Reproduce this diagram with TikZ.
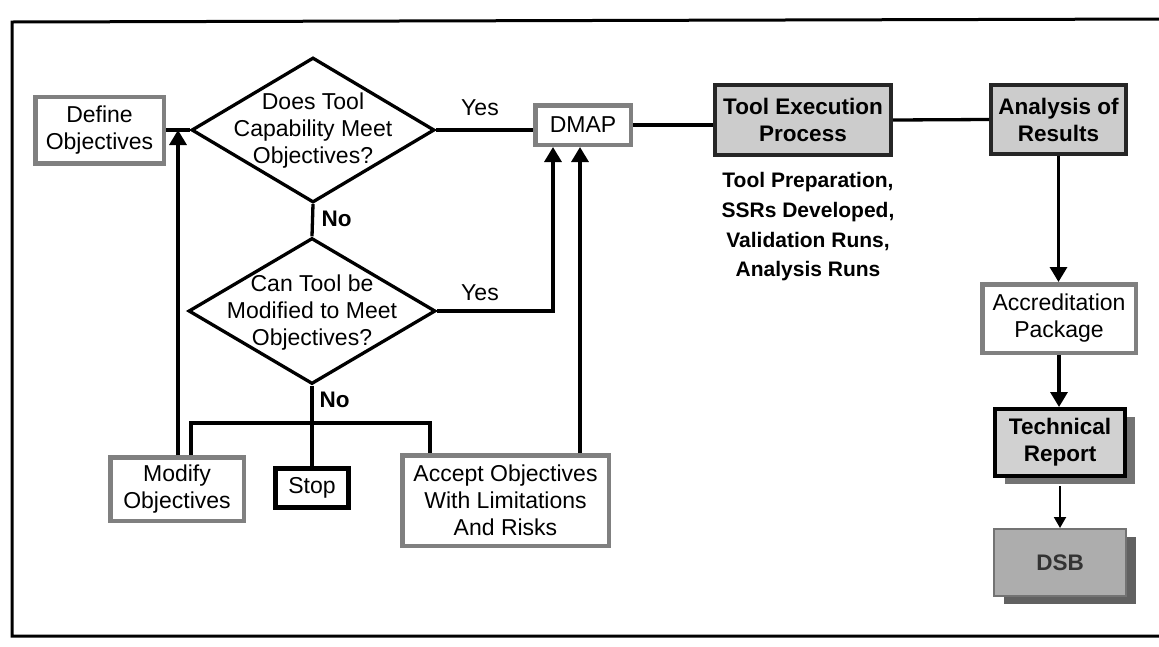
\documentclass[tikz,border=0pt]{standalone}
\usepackage{fontspec}
\setmainfont{Liberation Sans}
\usetikzlibrary{arrows.meta,shapes.geometric,shadows,calc}

\begin{document}
\begin{tikzpicture}[x=1pt,y=-1pt,
  txt/.style={font=\fontsize{23}{27}\selectfont, align=center},
  btxt/.style={font=\fontsize{22.5}{27}\selectfont\bfseries, align=center},
  greybox/.style={txt, draw=black!50, line width=4.5pt, fill=white, inner sep=0pt},
  darkbox/.style={btxt, draw=black!85, line width=4pt, fill=black!20, inner sep=0pt},
  conn/.style={line width=3.3pt},
  arr/.style={conn, -{Triangle[width=17pt,length=15pt]}},
  decision/.style={diamond, draw, line width=3.3pt, inner sep=0pt},
]
\useasboundingbox (0,0) rectangle (1159,646);

% outer frame
\draw[line width=3pt] (1170,19) -- (12,22) -- (12,636) -- (1170,636);

% left part: objectives and decisions
\node[greybox, minimum width=128.5pt, minimum height=66.5pt] (def) at (99.5,130) {Define\\Objectives};
\node[decision, minimum width=243pt, minimum height=145pt] (d1) at (313,130) {};
\node[txt] (d1t) at (313,131) {Does Tool\\Capability Meet\\Objectives?};
\node[decision, minimum width=247pt, minimum height=146pt] (d2) at (312,311) {};
\node[txt] (d2t) at (312,313) {Can Tool be\\Modified to Meet\\Objectives?};

\node[greybox, minimum width=133.5pt, minimum height=63.5pt] (mod) at (177,489) {Modify\\Objectives};
\node[txt, draw, line width=4.5pt, fill=white, inner sep=0pt, minimum width=73pt, minimum height=39pt] (stop) at (312,488) {Stop};
\node[greybox, minimum width=206.5pt, minimum height=90.5pt] (acc) at (505.5,500.5) {Accept Objectives\\With Limitations\\And Risks};

\node[greybox, minimum width=95.5pt, minimum height=39.5pt] (dmap) at (583,125) {DMAP};

% right part: execution and reporting
\node[darkbox, minimum width=176pt, minimum height=70pt] (tool) at (803,120) {Tool Execution\\Process};
\node[font=\fontsize{21}{29.7}\selectfont\bfseries, align=center] (toolnote) at (808,227) {Tool Preparation,\\SSRs Developed,\\Validation Runs,\\Analysis Runs};
\node[darkbox, minimum width=135pt, minimum height=69pt] (anal) at (1058.5,119.5) {Analysis of\\Results};
\node[greybox, minimum width=153.5pt, minimum height=68.5pt] (accr) at (1059,318.5) {Accreditation\\Package};
\node[btxt, draw=black, line width=4pt, fill=black!18, inner sep=0pt,
      minimum width=130pt, minimum height=67pt,
      drop shadow={shadow xshift=10pt, shadow yshift=-8pt, fill=black!55, opacity=1}] (tech) at (1060,442.5) {Technical\\Report};
\node[btxt, text=black!80, draw=black!55, line width=2pt, fill=black!32, inner sep=0pt,
      minimum width=132pt, minimum height=67pt,
      drop shadow={shadow xshift=10pt, shadow yshift=-8pt, fill=black!62, opacity=1}] (dsb) at (1060,562.5) {DSB};

% branch labels
\node[txt] (yes1) at (480,108) {Yes};
\node[txt] (yes2) at (480,293) {Yes};
\node[btxt, anchor=west] (no1) at (318,219) {No};
\node[btxt, anchor=west] (no2) at (316,400) {No};

% helper points for the routed connectors
\coordinate (busL) at (191,423);
\coordinate (busR) at (430,423);
\coordinate (yesx) at (553,0);
\coordinate (accx) at (580,0);

% connectors
\draw[conn] (def.east) -- (d1.west);
\draw[conn] (d1.east) -- (dmap.west |- d1.east);
\draw[conn] (d1.south) -- (d2.north);
\draw[conn] (d2.south) -- (stop.north);
\draw[arr] ([xshift=1pt]mod.north) -- ([xshift=1pt]mod.north |- d1.west);
\draw[conn] (mod.north -| busL) -- (busL) -- (busR) -- (acc.north -| busR);
\draw[arr] (d2.east) -- (d2.east -| yesx) -- (dmap.south -| yesx);
\draw[arr] (acc.north -| accx) -- (dmap.south -| accx);
\draw[conn] (dmap.east) -- (tool.west |- dmap.east);
\draw[conn] (tool.east) -- (anal.west);
\draw[arr] (anal.south) -- (anal.south |- accr.north);
\draw[arr] (accr.south) -- (accr.south |- tech.north);
\draw[line width=2pt, -{Triangle[width=12pt,length=11pt]}] ([yshift=-8pt]tech.south) -- (tech.south |- dsb.north);
\end{tikzpicture}
\end{document}
